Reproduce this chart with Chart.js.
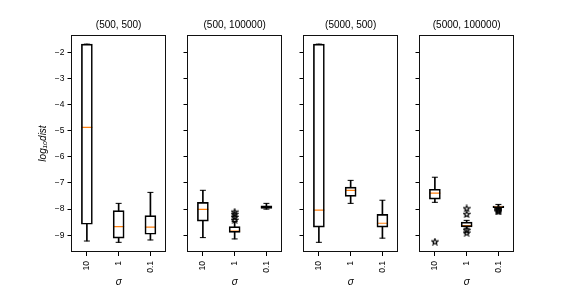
<!DOCTYPE html>
<html>
<head>
<meta charset="utf-8">
<script src="https://cdn.jsdelivr.net/npm/chart.js@4.4.0/dist/chart.umd.min.js"></script>
<style>
    body { margin: 0; width: 576px; height: 288px; background: #fff; position: relative; overflow: hidden; }
    canvas { position: absolute; top: 0; }
</style>
</head>
<body>
<canvas id="c0"></canvas>
<canvas id="c1"></canvas>
<canvas id="c2"></canvas>
<canvas id="c3"></canvas>
<script>
// data (log10 dist)
const sigmaLabels = ['10', '1', '0.1'];
const panelTitles = ['(500, 500)', '(500, 100000)', '(5000, 500)', '(5000, 100000)'];
const yTickValues = [-9, -8, -7, -6, -5, -4, -3, -2];
const yMin = -9.64;
const yMax = -1.34;

// one row per panel, one value per sigma
const whiskerLow = [
    [-9.22, -9.27, -9.18],
    [-9.09, -9.14, -8.00],
    [-9.27, -7.78, -9.11],
    [-7.74, -8.73, -7.97]
];
const quartile1 = [
    [-8.58, -9.11, -8.96],
    [-8.46, -8.89, -7.97],
    [-8.69, -7.51, -8.69],
    [-7.62, -8.68, -7.94]
];
const medians = [
    [-4.87, -8.67, -8.69],
    [-8.01, -8.84, -7.92],
    [-8.04, -7.28, -8.54],
    [-7.39, -8.63, -7.91]
];
const quartile3 = [
    [-1.69, -8.06, -8.25],
    [-7.74, -8.67, -7.87],
    [-1.69, -7.16, -8.20],
    [-7.24, -8.50, -7.88]
];
const whiskerHigh = [
    [-1.69, -7.78, -7.36],
    [-7.28, -8.47, -7.78],
    [-1.69, -6.90, -7.66],
    [-6.78, -8.43, -7.82]
];
const outliers = [
    [[], [], []],
    [[], [-8.10, -8.19, -8.30, -8.41], []],
    [[], [], []],
    [[-9.24], [-7.97, -8.19, -8.80, -8.90], [-7.99, -8.03, -8.06, -8.09]]
];

// layout (99px wide plot areas so the box centres land on half pixels)
const panelLeft = [71, 187, 303, 419];
const panelWidth = 99;
const axisWidth = [71, 12, 12, 12];
const FONT = "'Liberation Sans', Arial, sans-serif";
const ORANGE = '#ff7f0e';

// star marker for the fliers
function makeStar(size) {
    const c = document.createElement('canvas');
    c.width = c.height = size;
    const g = c.getContext('2d');
    const cx = size / 2, cy = size / 2 + 0.3, R = size / 2 - 0.8, r = R * 0.45;
    g.beginPath();
    for (let k = 0; k < 10; k++) {
        const a = -Math.PI / 2 + k * Math.PI / 5;
        const rad = k % 2 ? r : R;
        g.lineTo(cx + rad * Math.cos(a), cy + rad * Math.sin(a));
    }
    g.closePath();
    g.strokeStyle = '#000';
    g.lineWidth = 1.1;
    g.stroke();
    return c;
}
const starMarker = makeStar(8);

// frame round the plot area (matplotlib spines)
const framePlugin = {
    id: 'frame',
    afterDraw(chart) {
        const { ctx, chartArea: a } = chart;
        ctx.save();
        ctx.strokeStyle = '#111';
        ctx.lineWidth = 1;
        ctx.strokeRect(Math.round(a.left) + 0.5, Math.round(a.top) + 0.5,
            Math.round(a.right - a.left) - 1, Math.round(a.bottom - a.top) - 1);
        ctx.restore();
    }
};

function pointsFor(rows) {
    const pts = [];
    rows.forEach((vals, j) => vals.forEach(v => pts.push({ x: sigmaLabels[j], y: v })));
    return pts;
}

function buildPanel(i) {
    const canvas = document.getElementById('c' + i);
    canvas.width = axisWidth[i] + panelWidth + 3;
    canvas.height = 288;
    canvas.style.left = (panelLeft[i] - axisWidth[i]) + 'px';

    const lowerWhisk = sigmaLabels.map((_, j) => [whiskerLow[i][j], quartile1[i][j]]);
    const upperWhisk = sigmaLabels.map((_, j) => [quartile3[i][j], whiskerHigh[i][j]]);
    const boxes = sigmaLabels.map((_, j) => [quartile1[i][j], quartile3[i][j]]);
    const caps = pointsFor(sigmaLabels.map((_, j) => [whiskerLow[i][j], whiskerHigh[i][j]]));
    const meds = pointsFor(sigmaLabels.map((_, j) => [medians[i][j]]));
    const fliers = pointsFor(outliers[i]);

    const whiskerStyle = { type: 'bar', backgroundColor: '#000', borderWidth: 0, barThickness: 1, grouped: false };

    new Chart(canvas, {
        type: 'bar',
        data: {
            labels: sigmaLabels,
            datasets: [
                Object.assign({ data: lowerWhisk }, whiskerStyle),
                Object.assign({ data: upperWhisk }, whiskerStyle),
                {
                    type: 'bar',
                    data: boxes,
                    backgroundColor: 'rgba(255,255,255,0)',
                    borderColor: '#000',
                    borderWidth: 1,
                    borderSkipped: false,
                    barThickness: 11,
                    grouped: false
                },
                {
                    type: 'line', data: caps, showLine: false,
                    pointStyle: 'line', pointRadius: 3, borderColor: '#000', borderWidth: 1
                },
                {
                    type: 'line', data: fliers, showLine: false,
                    pointStyle: starMarker, pointRadius: 4
                },
                // medians last so they stay on top of the fliers
                {
                    type: 'line', data: meds, showLine: false,
                    pointStyle: 'line', pointRadius: 5.5, borderColor: ORANGE, borderWidth: 1.2
                }
            ]
        },
        options: {
            responsive: false,
            animation: false,
            events: [],
            layout: { padding: { left: 0, right: 3, top: 0, bottom: 0 } },
            plugins: {
                legend: { display: false },
                tooltip: { enabled: false },
                title: {
                    display: true,
                    fullSize: false, // centre over the plot area, not the canvas
                    text: panelTitles[i],
                    color: '#000',
                    font: { family: FONT, size: 10, weight: 'normal' },
                    padding: { top: 19, bottom: 4 }
                }
            },
            scales: {
                x: {
                    offset: true,
                    border: { display: false },
                    grid: { display: true, offset: false, drawOnChartArea: false, drawTicks: true, tickLength: 4, color: '#000' },
                    ticks: {
                        color: '#000',
                        font: { family: FONT, size: 8.5 },
                        minRotation: 90,
                        maxRotation: 90,
                        autoSkip: false,
                        padding: 5
                    },
                    title: {
                        display: true,
                        text: 'σ',
                        color: '#000',
                        font: { family: FONT, size: 10, style: 'italic' },
                        padding: 0
                    },
                    afterFit(scale) { scale.height = 36; }
                },
                y: {
                    min: yMin,
                    max: yMax,
                    border: { display: false },
                    grid: { display: true, drawOnChartArea: false, drawTicks: true, tickLength: 3.5, color: '#000' },
                    afterBuildTicks(scale) { scale.ticks = yTickValues.map(v => ({ value: v })); },
                    ticks: {
                        color: '#000',
                        font: { family: FONT, size: 8.5 },
                        padding: 3,
                        callback: v => i === 0 ? '\u2212' + Math.abs(v) : ''
                    },
                    title: {
                        display: i === 0,
                        text: 'log\u2081\u2080dist',
                        color: '#000',
                        font: { family: FONT, size: 10, style: 'italic' },
                        padding: { top: 37, bottom: 0 }
                    },
                    afterFit(scale) { scale.width = axisWidth[i]; }
                }
            }
        },
        plugins: [framePlugin]
    });
}

for (let i = 0; i < 4; i++) buildPanel(i);
</script>
</body>
</html>
